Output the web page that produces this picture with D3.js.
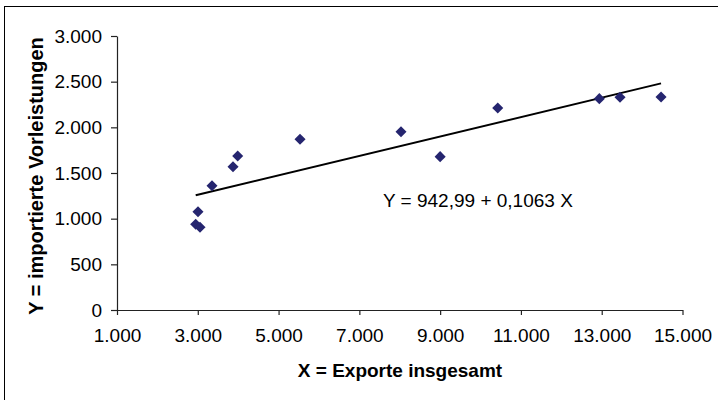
<!DOCTYPE html>
<html>
<head>
<meta charset="utf-8">
<script src="https://cdn.jsdelivr.net/npm/d3@7"></script>
<style>
  html, body { margin: 0; padding: 0; background: #fff; }
  svg { display: block; font-family: "Liberation Sans", Arial, sans-serif; }
</style>
</head>
<body>
<svg id="chart" width="718" height="400"></svg>
<script>
// Data
const exporte = [2948, 3055, 3005, 3352, 3872, 3988, 5531, 8031, 9000, 10426, 12941, 13453, 14469];
const vorleistungen = [938, 905, 1076, 1361, 1569, 1686, 1869, 1952, 1679, 2212, 2314, 2329, 2332];
const xTicks = [1000, 3000, 5000, 7000, 9000, 11000, 13000, 15000];
const yTicks = [0, 500, 1000, 1500, 2000, 2500, 3000];
const trendIntercept = 942.99;
const trendSlope = 0.1063;
const equationLabel = "Y = 942,99 + 0,1063 X";
const xTitle = "X = Exporte insgesamt";
const yTitle = "Y = importierte Vorleistungen";

const de = d3.formatLocale({decimal: ",", thousands: ".", grouping: [3], currency: ["", " €"]});
const fmt = de.format(",d");

const svg = d3.select("#chart");

// outer frame
svg.append("rect").attr("x", 4.5).attr("y", 6.5).attr("width", 900).attr("height", 600)
  .attr("fill", "none").attr("stroke", "#000").attr("stroke-width", 1);

const x = d3.scaleLinear().domain([1000, 15000]).range([117, 682.5]);
const y = d3.scaleLinear().domain([0, 3000]).range([310, 36]);

// x axis
const gx = svg.append("g").attr("transform", `translate(0,${y(0)})`)
  .call(d3.axisBottom(x).tickValues(xTicks).tickFormat(fmt).tickSizeInner(5).tickSizeOuter(0).tickPadding(14));
// y axis
const gy = svg.append("g").attr("transform", `translate(${x(1000)},0)`)
  .call(d3.axisLeft(y).tickValues(yTicks).tickFormat(fmt).tickSizeInner(6).tickSizeOuter(0).tickPadding(9));

[gx, gy].forEach(g => {
  g.select(".domain").attr("stroke", "#222").attr("stroke-width", 1.2);
  g.selectAll(".tick line").attr("stroke", "#222").attr("stroke-width", 1.2);
  g.selectAll(".tick text").attr("fill", "#000").style("font-size", "19px")
    .style("font-family", "'Liberation Sans', Arial, sans-serif");
});

// trend line
const xMin = d3.min(exporte), xMax = d3.max(exporte);
svg.append("line")
  .attr("x1", x(xMin)).attr("y1", y(trendIntercept + trendSlope * xMin))
  .attr("x2", x(xMax)).attr("y2", y(trendIntercept + trendSlope * xMax))
  .attr("stroke", "#000").attr("stroke-width", 2);

// points
const diamond = d3.symbol().type(d3.symbolDiamond2).size(78);
svg.append("g").selectAll("path").data(exporte).join("path")
  .attr("d", diamond)
  .attr("transform", (d, i) => `translate(${x(d)},${y(vorleistungen[i])})`)
  .attr("fill", "#25256f");

// equation
svg.append("text").attr("x", 383).attr("y", 207)
  .style("font-size", "19px").attr("fill", "#000").text(equationLabel);

// axis titles
svg.append("text").attr("x", 400).attr("y", 377).attr("text-anchor", "middle")
  .style("font-size", "19px").style("font-weight", "bold").attr("fill", "#000").text(xTitle);
svg.append("text").attr("transform", "translate(43,176) rotate(-90)").attr("text-anchor", "middle")
  .style("font-size", "20px").style("font-weight", "bold").attr("fill", "#000").text(yTitle);
</script>
</body>
</html>
